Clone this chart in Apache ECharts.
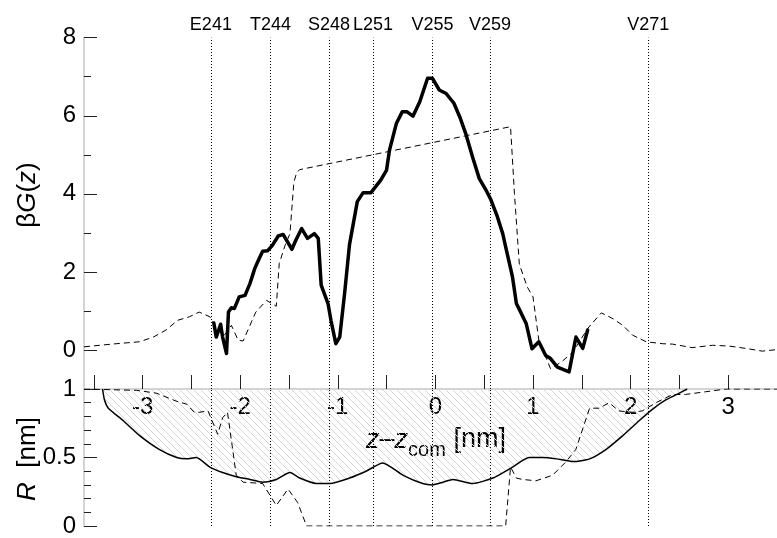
<!DOCTYPE html>
<html>
<head>
<meta charset="utf-8">
<script src="https://cdn.jsdelivr.net/npm/echarts@6/dist/echarts.min.js"></script>
<style>
html, body { margin: 0; padding: 0; background: #fff; }
#main { width: 777px; height: 538px; }
</style>
</head>
<body>
<div id="main"></div>
<script>
// free energy profile (thick solid) : z - z_com [nm] / beta G
var gX = [-2.27, -2.245, -2.23, -2.20, -2.18, -2.14, -2.12, -2.09, -2.06, -2.01, -1.95, -1.90, -1.85, -1.82,
  -1.77, -1.72, -1.67, -1.61, -1.56, -1.47, -1.43, -1.37, -1.31, -1.24, -1.20, -1.17, -1.10, -1.07, -1.02,
  -0.98, -0.93, -0.88, -0.80, -0.74, -0.66, -0.56, -0.50, -0.47, -0.40, -0.34, -0.29, -0.23, -0.16, -0.08,
  -0.03, 0.04, 0.11, 0.19, 0.25, 0.31, 0.38, 0.45, 0.52, 0.57, 0.63, 0.69, 0.72, 0.79, 0.83, 0.86, 0.93,
  0.99, 1.06, 1.13, 1.18, 1.25, 1.37, 1.44, 1.51, 1.56];
var gY = [0.69, 0.33, 0.29, 0.66, 0.33, -0.09, 0.97, 1.08, 1.06, 1.36, 1.40, 1.70, 2.09, 2.26,
  2.53, 2.54, 2.68, 2.92, 2.96, 2.58, 2.81, 3.11, 2.86, 2.98, 2.86, 1.66, 1.19, 0.76, 0.16,
  0.33, 1.45, 2.70, 3.80, 4.03, 4.03, 4.35, 4.61, 5.12, 5.80, 6.10, 6.10, 5.99, 6.36, 6.96,
  6.96, 6.66, 6.57, 6.32, 5.97, 5.55, 4.95, 4.39, 4.09, 3.84, 3.45, 2.98, 2.64, 1.87, 1.19, 1.04, 0.68,
  0.03, 0.21, -0.14, -0.22, -0.44, -0.56, 0.33, 0.04, 0.51];

// second profile (thin dashed)
var dX = [-3.6, -3.44, -3.27, -3.03, -2.89, -2.76, -2.64, -2.52, -2.42, -2.31, -2.25, -2.17, -2.09, -2.02,
  -1.97, -1.84, -1.73, -1.63, -1.60, -1.54, -1.49, -1.45, -1.42, -1.39, 0.77, 0.81, 0.86, 0.94, 1.00,
  1.06, 1.18, 1.29, 1.41, 1.56, 1.70, 1.82, 1.92, 2.02, 2.16, 2.33, 2.43, 2.63, 2.84, 3.01, 3.18, 3.35, 3.5];
var dY = [0.08, 0.12, 0.16, 0.21, 0.33, 0.51, 0.76, 0.85, 0.97, 0.85, 0.60, 0.35, 0.63, 0.25,
  0.23, 0.97, 1.27, 1.12, 2.21, 2.68, 2.98, 4.30, 4.55, 4.62, 5.72, 4.01, 2.20, 1.62, 1.36,
  0.25, -0.48, -0.31, -0.05, 0.55, 0.95, 0.80, 0.63, 0.38, 0.21, 0.16, 0.15, 0.06, 0.12, 0.10, 0.04, -0.03, 0.01];

// pore radius (solid) and second radius (dashed), R [nm]
var rX = [-3.41, -3.39, -3.35, -3.20, -3.03, -2.83, -2.65, -2.55, -2.45, -2.31, -2.18, -2.04, -1.90, -1.77,
  -1.63, -1.49, -1.39, -1.22, -1.08, -0.88, -0.71, -0.54, -0.33, -0.13, -0.03, 0.08, 0.18, 0.38, 0.59,
  0.79, 0.96, 1.10, 1.24, 1.41, 1.58, 1.75, 1.92, 2.09, 2.22, 2.36, 2.50, 2.58];
var rY = [1.0, 0.92, 0.86, 0.77, 0.66, 0.56, 0.50, 0.49, 0.50, 0.43, 0.39, 0.36, 0.34, 0.32,
  0.34, 0.39, 0.35, 0.31, 0.31, 0.35, 0.40, 0.46, 0.37, 0.31, 0.30, 0.32, 0.34, 0.31, 0.35,
  0.43, 0.50, 0.50, 0.49, 0.47, 0.49, 0.56, 0.66, 0.77, 0.85, 0.92, 0.97, 1.0];
var rdX = [-3.6, -3.06, -2.86, -2.65, -2.55, -2.47, -2.42, -2.33, -2.23, -2.18, -2.13, -2.04, -1.97, -1.77,
  -1.63, -1.51, -1.41, -1.32, 0.72, 0.77, 0.83, 0.89, 1.03, 1.20, 1.34, 1.44, 1.51, 1.58, 1.68, 1.78,
  1.88, 2.02, 2.12, 2.26, 2.43, 2.56, 2.77, 2.98, 3.5];
var rdY = [1.0, 0.99, 0.97, 0.91, 0.89, 0.83, 0.83, 0.84, 0.67, 0.79, 0.83, 0.37, 0.32, 0.31,
  0.15, 0.27, 0.17, 0.0, 0.0, 0.43, 0.35, 0.34, 0.33, 0.37, 0.47, 0.56, 0.71, 0.86, 0.86, 0.90,
  0.84, 0.83, 0.84, 0.90, 0.96, 0.96, 0.98, 1.0, 1.0];

// residue markers
var residueNames = ['E241', 'T244', 'S248', 'L251', 'V255', 'V259', 'V271'];
var residuePos = [-2.30, -1.69, -1.09, -0.64, -0.03, 0.56, 2.18];

// ticks
var xTicks = [-3.5, -3, -2.5, -2, -1.5, -1, -0.5, 0, 0.5, 1, 1.5, 2, 2.5, 3, 3.5];
var xLabels = [-3, -2, -1, 0, 1, 2, 3];
var gMajor = [0, 2, 4, 6, 8];
var gMinor = [1, 3, 5, 7];

var FONT = 'Liberation Sans';

function zip(a, b) {
  return a.map(function (v, i) { return [v, b[i]]; });
}

function makeHatch() {
  var s = 7;
  var c = document.createElement('canvas');
  c.width = s;
  c.height = s;
  var ctx = c.getContext('2d');
  ctx.strokeStyle = '#d6d6d6';
  ctx.lineWidth = 1;
  ctx.beginPath();
  ctx.moveTo(-1, -1); ctx.lineTo(s + 1, s + 1);
  ctx.moveTo(-1, s - 1); ctx.lineTo(1, s + 1);
  ctx.moveTo(s - 1, -1); ctx.lineTo(s + 1, 1);
  ctx.stroke();
  return c;
}

var residueLines = residuePos.map(function (v, i) {
  return { xAxis: v, name: residueNames[i] };
});

var chart = echarts.init(document.getElementById('main'));

var option = {
  animation: false,
  backgroundColor: '#fff',
  textStyle: { fontFamily: FONT },
  grid: [
    { left: 84, width: 694, top: 37.7, height: 351.3 },
    { left: 84, width: 694, top: 389, height: 140 }
  ],
  xAxis: [{
    gridIndex: 0,
    type: 'value',
    min: -3.6,
    max: 3.5,
    position: 'bottom',
    axisLine: { show: false, onZero: false },
    axisLabel: { show: false },
    splitLine: { show: false },
    axisTick: { show: true, inside: true, length: 14, customValues: xTicks, lineStyle: { color: '#222', width: 1 } }
  }, {
    gridIndex: 1,
    type: 'value',
    min: -3.6,
    max: 3.5,
    position: 'top',
    axisLine: { show: true, onZero: false, lineStyle: { color: '#d4d4d4', width: 2 } },
    axisTick: { show: false },
    splitLine: { show: false },
    axisLabel: { inside: true, customValues: xLabels, margin: 6, fontSize: 24, color: '#000', fontFamily: FONT }
  }],
  yAxis: [{
    gridIndex: 0,
    type: 'value',
    min: -1,
    max: 8,
    position: 'left',
    axisLine: { show: true, onZero: false, lineStyle: { color: '#d4d4d4', width: 2 } },
    axisTick: { show: true, inside: true, length: 13, customValues: gMajor, lineStyle: { color: '#222' } },
    axisLabel: { customValues: gMajor, margin: 8, fontSize: 24, color: '#000', fontFamily: FONT },
    splitLine: { show: false }
  }, {
    gridIndex: 0,
    type: 'value',
    min: -1,
    max: 8,
    position: 'left',
    axisLine: { show: false, onZero: false },
    axisTick: { show: true, inside: true, length: 7, customValues: gMinor, lineStyle: { color: '#222' } },
    axisLabel: { show: false },
    splitLine: { show: false }
  }, {
    gridIndex: 1,
    type: 'value',
    min: 0,
    max: 1,
    interval: 0.5,
    position: 'left',
    axisLine: { show: true, onZero: false, lineStyle: { color: '#d4d4d4', width: 2 } },
    axisTick: { show: true, inside: true, length: 13, lineStyle: { color: '#222' } },
    minorTick: { show: true, splitNumber: 5, length: 7, lineStyle: { color: '#222' } },
    axisLabel: { margin: 8, fontSize: 24, color: '#000', fontFamily: FONT },
    splitLine: { show: false }
  }],
  graphic: [{
    type: 'text',
    x: 28,
    y: 195,
    rotation: Math.PI / 2,
    style: {
      text: '{b|β}{i|G}{b|(}{i|z}{b|)}',
      align: 'center',
      verticalAlign: 'middle',
      rich: {
        b: { fontSize: 26, fontFamily: FONT, fill: '#000' },
        i: { fontSize: 26, fontFamily: FONT, fontStyle: 'italic', fill: '#000' }
      }
    }
  }, {
    type: 'text',
    x: 28,
    y: 459,
    rotation: Math.PI / 2,
    style: {
      text: '{i|R}{b|  [nm]}',
      align: 'center',
      verticalAlign: 'middle',
      rich: {
        b: { fontSize: 26, fontFamily: FONT, fill: '#000' },
        i: { fontSize: 26, fontFamily: FONT, fontStyle: 'italic', fill: '#000' }
      }
    }
  }, {
    type: 'text',
    x: 436,
    y: 440,
    style: {
      text: '{i|z}{b|–}{i|z}{s|com}{b| [nm]}',
      align: 'center',
      verticalAlign: 'middle',
      rich: {
        b: { fontSize: 27, fontFamily: FONT, fill: '#000', lineHeight: 40 },
        i: { fontSize: 27, fontFamily: FONT, fontStyle: 'italic', fill: '#000', lineHeight: 40 },
        s: { fontSize: 20, fontFamily: FONT, fill: '#000', lineHeight: 40, verticalAlign: 'bottom' }
      }
    }
  }],
  series: [{
    name: 'dashedG',
    type: 'line',
    xAxisIndex: 0,
    yAxisIndex: 0,
    data: zip(dX, dY),
    showSymbol: false,
    lineStyle: { color: '#000', width: 1, type: [6, 4] },
    silent: true
  }, {
    name: 'G',
    type: 'line',
    xAxisIndex: 0,
    yAxisIndex: 0,
    data: zip(gX, gY),
    showSymbol: false,
    lineStyle: { color: '#000', width: 3.5, join: 'round', cap: 'round' },
    silent: true,
    markLine: {
      silent: true,
      symbol: 'none',
      lineStyle: { color: '#000', width: 1, type: [1, 2] },
      label: { position: 'end', formatter: '{b}', fontSize: 18, color: '#000', fontFamily: FONT, distance: 4 },
      data: residueLines
    }
  }, {
    name: 'R',
    type: 'line',
    xAxisIndex: 1,
    yAxisIndex: 2,
    data: zip(rX, rY),
    showSymbol: false,
    smooth: 0.2,
    lineStyle: { color: '#000', width: 1.5, join: 'round' },
    areaStyle: { origin: 'end', color: { image: makeHatch(), repeat: 'repeat' }, opacity: 1 },
    silent: true,
    markLine: {
      silent: true,
      symbol: 'none',
      lineStyle: { color: '#000', width: 1, type: [1, 2] },
      label: { show: false },
      data: residueLines
    }
  }, {
    name: 'dashedR',
    type: 'line',
    xAxisIndex: 1,
    yAxisIndex: 2,
    data: zip(rdX, rdY),
    showSymbol: false,
    lineStyle: { color: '#000', width: 1, type: [6, 4] },
    silent: true
  }]
};

chart.setOption(option);
</script>
</body>
</html>
